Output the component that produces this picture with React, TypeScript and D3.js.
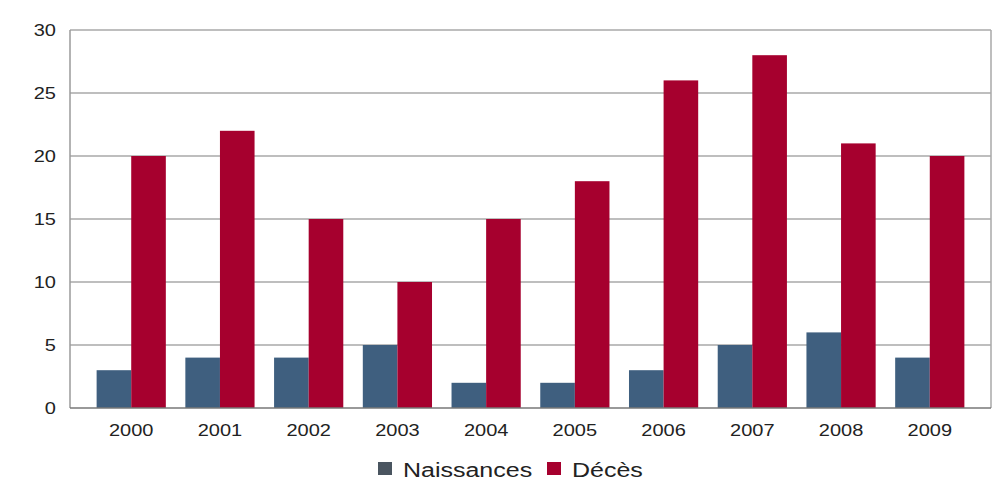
import React from "react";
import * as d3 from "d3";

const years = ["2000", "2001", "2002", "2003", "2004", "2005", "2006", "2007", "2008", "2009"];
const naissances = [3, 4, 4, 5, 2, 2, 3, 5, 6, 4];
const deces = [20, 22, 15, 10, 15, 18, 26, 28, 21, 20];
const yTicks = [0, 5, 10, 15, 20, 25, 30];
const seriesNames = ["Naissances", "Décès"];
const colors = ["#3f5f7f", "#a6002e"];

export default function App() {
  const W = 998, H = 503;
  const left = 70, right = 991, top = 30, bottom = 408;
  const x = d3.scaleBand<string>().domain(years).range([left, right]).paddingInner(0.22).paddingOuter(0.3);
  const xs = d3.scaleBand<string>().domain(seriesNames).range([0, x.bandwidth()]);
  const y = d3.scaleLinear().domain([0, 30]).range([bottom, top]);
  const font = "'Liberation Sans', Arial, sans-serif";
  const sx = 1.25;
  const data = [naissances, deces];
  return (
    <svg width={W} height={H} style={{ position: "absolute", left: 0, top: 0, background: "#fff" }}>
      {yTicks.map((t) => (
        <g key={t}>
          {t > 0 && <line x1={left} x2={right} y1={y(t)} y2={y(t)} stroke="#a8a8a8" strokeWidth={1.5} />}
          <text transform={`translate(56,${y(t)}) scale(${sx},1)`} dy="0.35em" textAnchor="end" fontFamily={font} fontSize={16} fill="#222">{t}</text>
        </g>
      ))}
      <line x1={left} x2={left} y1={top} y2={bottom} stroke="#9a9a9a" strokeWidth={1.5} />
      <line x1={right} x2={right} y1={top} y2={bottom} stroke="#a8a8a8" strokeWidth={1.5} />
      {data.map((vals, si) =>
        years.map((yr, i) => (
          <rect key={si + "-" + yr}
            x={(x(yr) as number) + (xs(seriesNames[si]) as number)}
            y={y(vals[i])}
            width={xs.bandwidth()}
            height={bottom - y(vals[i])}
            fill={colors[si]} />
        ))
      )}
      <line x1={left} x2={right} y1={bottom} y2={bottom} stroke="#777" strokeWidth={1.5} />
      {years.map((yr) => (
        <text key={yr} transform={`translate(${(x(yr) as number) + x.bandwidth() / 2},436) scale(${sx},1)`} textAnchor="middle" fontFamily={font} fontSize={16} fill="#222">{yr}</text>
      ))}
      <g>
        <rect x={378} y={462} width={14} height={13} fill="#4a5560" />
        <text transform={`translate(403,477) scale(${sx},1)`} fontFamily={font} fontSize={20} fill="#222">{seriesNames[0]}</text>
        <rect x={547} y={462} width={14} height={13} fill={colors[1]} />
        <text transform={`translate(572,477) scale(${sx},1)`} fontFamily={font} fontSize={20} fill="#222">{seriesNames[1]}</text>
      </g>
    </svg>
  );
}
